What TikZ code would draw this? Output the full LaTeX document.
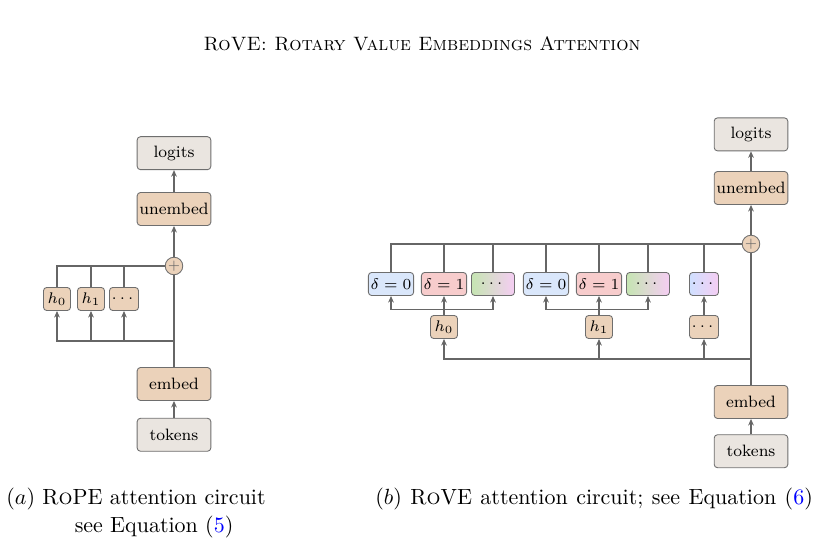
\documentclass[tikz,border=0pt]{standalone}
\usepackage{amsmath,amssymb}
\usepackage{fontspec}
\usepackage{xcolor}
\usepackage{tikz}
\usetikzlibrary{arrows.meta,positioning}

\definecolor{boxgray}{HTML}{EAE5E0}
\definecolor{boxtan}{HTML}{EBD2BA}
\definecolor{edgegray}{HTML}{6E6E6E}
\definecolor{linegray}{HTML}{666666}
\definecolor{dzero}{HTML}{DAE7FB}
\definecolor{done}{HTML}{F7CCCC}
\definecolor{dgreen}{HTML}{C5E5B2}
\definecolor{dpink}{HTML}{F5CDF3}
\definecolor{dblue}{HTML}{CFE0FF}
\definecolor{eqblue}{HTML}{0000FF}

\newcommand{\nodefont}{\fontsize{7.5}{9}\selectfont}
\newcommand{\capfont}{\fontsize{10}{12.5}\selectfont}

\begin{document}
\begin{tikzpicture}[
  x=0.455pt, y=-0.455pt,
  blk/.style={draw=edgegray,rounded corners=1.5pt,line width=0.4pt,
    inner sep=1pt,font=\nodefont},
  io/.style={blk,fill=boxgray,minimum width=33.5pt,minimum height=15pt},
  layer/.style={blk,fill=boxtan,minimum width=33.5pt,minimum height=15pt},
  head/.style={blk,fill=boxtan,minimum width=12.3pt,minimum height=10.5pt},
  rot/.style={blk,minimum width=19.6pt,minimum height=10.5pt},
  sum/.style={circle,draw=edgegray,fill=boxtan,minimum size=8pt,inner sep=0pt,
    text=linegray,font=\fontsize{6}{6}\selectfont},
  conn/.style={draw=linegray,line width=0.6pt},
  arrow/.style={conn,-{Stealth[length=3pt,width=2.6pt]}},
  trunk/.style={conn,line width=0.9pt}
]
  \useasboundingbox (0,0) rectangle (820,558);

  \node[font=\fontsize{8.8}{10}\selectfont] (title) at (422,44)
    {\textsc{RoVE: Rotary Value Embeddings Attention}};

  % (a) RoPE
  \node[layer] (a-unembed) at (174,209) {unembed};
  \node[io,above=10pt of a-unembed] (a-logits) {logits};
  \node[sum] (a-plus) at (174,266) {$+$};
  \node[head] (a-h0) at (57,299) {$h_0$};
  \node[head] (a-h1) at (91,299) {$h_1$};
  \node[head] (a-hd) at (124,299) {$\cdots$};
  \coordinate (a-split) at (174,341);
  \node[layer] (a-embed) at (174,384) {embed};
  \node[io,below=7.7pt of a-embed] (a-tokens) {tokens};

  \draw[conn] (a-h0.north) |- (a-plus);
  \draw[conn] (a-h1.north) -- (a-h1.north |- a-plus);
  \draw[conn] (a-hd.north) -- (a-hd.north |- a-plus);
  \draw[trunk] (a-embed) -- (a-plus);
  \draw[arrow] (a-split) -| (a-h0);
  \draw[arrow] (a-h1 |- a-split) -- (a-h1);
  \draw[arrow] (a-hd |- a-split) -- (a-hd);
  \draw[arrow] (a-tokens) -- (a-embed);
  \draw[arrow] (a-plus) -- (a-unembed);
  \draw[arrow] (a-unembed) -- (a-logits);

  % (b) RoVE
  \node[layer] (b-unembed) at (751,188) {unembed};
  \node[io,above=9pt of b-unembed] (b-logits) {logits};
  \node[sum] (b-plus) at (751,244) {$+$};
  \node[rot,fill=dzero] (b-d1) at (391,284) {$\delta=0$};
  \node[rot,fill=done]  (b-d2) at (444,284) {$\delta=1$};
  \node[rot,left color=dgreen,right color=dpink] (b-d3) at (493,284) {$\cdots$};
  \node[rot,fill=dzero] (b-d4) at (546,284) {$\delta=0$};
  \node[rot,fill=done]  (b-d5) at (599,284) {$\delta=1$};
  \node[rot,left color=dgreen,right color=dpink] (b-d6) at (648,284) {$\cdots$};
  \node[head,left color=dblue,right color=dpink] (b-d7) at (704,284) {$\cdots$};
  \node[head] (b-h0) at (444,327) {$h_0$};
  \node[head] (b-h1) at (599,327) {$h_1$};
  \node[head] (b-hd) at (704,327) {$\cdots$};
  \coordinate[above=2.5pt of b-h0] (b-br0);
  \coordinate[above=2.5pt of b-h1] (b-br1);
  \coordinate (b-split) at (751,359);
  \node[layer] (b-embed) at (751,402) {embed};
  \node[io,below=7pt of b-embed] (b-tokens) {tokens};

  \draw[conn] (b-d1.north) |- (b-plus);
  \foreach \d in {b-d2,b-d3,b-d4,b-d5,b-d6,b-d7}
    \draw[conn] (\d.north) -- (\d.north |- b-plus);
  \draw[arrow] (b-h0) -- (b-d2);
  \draw[arrow] (b-br0) -| (b-d1);
  \draw[arrow] (b-br0) -| (b-d3);
  \draw[arrow] (b-h1) -- (b-d5);
  \draw[arrow] (b-br1) -| (b-d4);
  \draw[arrow] (b-br1) -| (b-d6);
  \draw[arrow] (b-hd) -- (b-d7);
  \draw[trunk] (b-embed) -- (b-plus);
  \draw[arrow] (b-split) -| (b-h0);
  \draw[arrow] (b-h1 |- b-split) -- (b-h1);
  \draw[arrow] (b-hd |- b-split) -- (b-hd);
  \draw[arrow] (b-tokens) -- (b-embed);
  \draw[arrow] (b-plus) -- (b-unembed);
  \draw[arrow] (b-unembed) -- (b-logits);

  % captions
  \node[anchor=base west,inner sep=0pt,font=\capfont] (cap-a) at (6,505)
    {\begin{tabular}[t]{@{}l@{\ }c@{}}$(a)$ & R\textsc{o}PE attention circuit\\
      & see Equation (\textcolor{eqblue}{5})\end{tabular}};
  \node[anchor=base west,inner sep=0pt,font=\capfont] (cap-b) at (375,505)
    {\spaceskip=3.85pt plus 1pt $(b)$ R\textsc{o}VE attention circuit; see Equation (\textcolor{eqblue}{6})};
\end{tikzpicture}
\end{document}
